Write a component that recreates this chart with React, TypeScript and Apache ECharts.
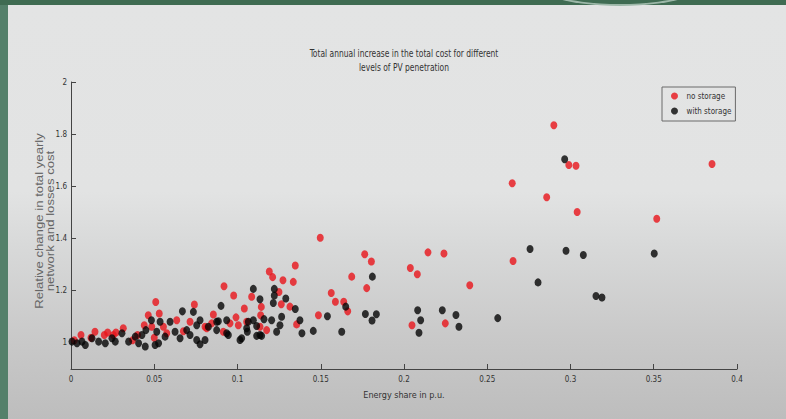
import React, { useEffect, useRef } from "react";
import * as echarts from "echarts";

const TITLE_LINES = [
  "Total annual increase in the total cost for different",
  "levels of PV penetration",
];
const X_NAME = "Energy share in p.u.";
const Y_NAME_LINES = ["Relative change in total yearly", "network and losses cost"];
const SERIES_NAMES = ["no storage", "with storage"];
const Y_TICKS = [1, 1.2, 1.4, 1.6, 1.8, 2];

const noStorage: [number, number][] = [
  [0.002, 1.01], [0.006, 1.03], [0.012, 1.02], [0.0144, 1.043], [0.02, 1.03], [0.022, 1.04],
  [0.0254, 1.03], [0.027, 1.04], [0.0314, 1.056], [0.037, 1.01], [0.04, 1.03], [0.044, 1.068],
  [0.0464, 1.106], [0.05, 1.02], [0.0509, 1.157], [0.053, 1.113], [0.0485, 1.062], [0.0555, 1.062],
  [0.0575, 1.037], [0.0635, 1.087], [0.0675, 1.045], [0.0715, 1.081], [0.0741, 1.147], [0.0805, 1.062],
  [0.0815, 1.056], [0.0845, 1.075], [0.0855, 1.109], [0.0915, 1.043], [0.0919, 1.217], [0.0955, 1.075],
  [0.0977, 1.182], [0.0991, 1.098], [0.1005, 1.068], [0.1041, 1.132], [0.1055, 1.081], [0.1085, 1.177],
  [0.1135, 1.062], [0.1143, 1.138], [0.1139, 1.106], [0.1175, 1.049], [0.1191, 1.274], [0.1211, 1.252],
  [0.1249, 1.195], [0.1263, 1.148], [0.1273, 1.24], [0.1315, 1.139], [0.1335, 1.234], [0.1347, 1.297],
  [0.1355, 1.071], [0.1486, 1.106], [0.1497, 1.403], [0.1563, 1.191], [0.1588, 1.158], [0.1638, 1.158],
  [0.1662, 1.121], [0.1686, 1.254], [0.1764, 1.34], [0.1776, 1.21], [0.1804, 1.312], [0.2038, 1.287],
  [0.2048, 1.068], [0.208, 1.263], [0.2144, 1.347], [0.224, 1.343], [0.2248, 1.075], [0.2395, 1.221],
  [0.2655, 1.314], [0.265, 1.612], [0.2857, 1.558], [0.29, 1.834], [0.299, 1.682], [0.3033, 1.679],
  [0.304, 1.502], [0.3518, 1.476], [0.385, 1.686],
];

const withStorage: [number, number][] = [
  [0.0006, 1.005], [0.0036, 0.999], [0.0066, 1.005], [0.0086, 0.992], [0.0126, 1.018], [0.0166, 1.005],
  [0.0206, 0.999], [0.0246, 1.018], [0.0266, 1.005], [0.0306, 1.037], [0.0346, 1.005], [0.0386, 1.024],
  [0.0406, 0.999], [0.0426, 1.03], [0.0446, 0.986], [0.045, 1.049], [0.0483, 1.087], [0.0505, 0.992],
  [0.0515, 1.043], [0.0526, 0.999], [0.0535, 1.081], [0.0565, 1.024], [0.0595, 1.081], [0.0625, 1.043],
  [0.0655, 1.018], [0.0669, 1.121], [0.0695, 1.049], [0.0715, 1.03], [0.0735, 1.119], [0.0755, 1.068],
  [0.0755, 1.011], [0.0775, 1.087], [0.0775, 0.995], [0.0805, 1.011], [0.0825, 1.062], [0.0875, 1.049],
  [0.0875, 1.081], [0.0885, 1.083], [0.0901, 1.142], [0.0935, 1.087], [0.0935, 1.037], [0.0945, 1.03],
  [0.1015, 1.011], [0.1025, 1.018], [0.1055, 1.056], [0.1059, 1.043], [0.1065, 1.081], [0.1095, 1.207],
  [0.1095, 1.087], [0.1115, 1.065], [0.1115, 1.027], [0.1135, 1.167], [0.1135, 1.03], [0.1145, 1.027],
  [0.1159, 1.091], [0.1205, 1.087], [0.1215, 1.153], [0.1221, 1.207], [0.1221, 1.182], [0.1235, 1.043],
  [0.1255, 1.068], [0.1265, 1.1], [0.129, 1.17], [0.1347, 1.13], [0.1375, 1.087], [0.1387, 1.037],
  [0.1455, 1.046], [0.154, 1.102], [0.1626, 1.043], [0.165, 1.139], [0.1768, 1.111], [0.1808, 1.086],
  [0.181, 1.254], [0.1834, 1.11], [0.2082, 1.125], [0.209, 1.039], [0.21, 1.087], [0.223, 1.125],
  [0.2312, 1.107], [0.233, 1.062], [0.2563, 1.095], [0.2757, 1.36], [0.2805, 1.232], [0.2965, 1.704],
  [0.2973, 1.353], [0.3077, 1.337], [0.3153, 1.18], [0.3189, 1.174], [0.3503, 1.343],
];

const NARROW = "'Liberation Sans Narrow', 'DejaVu Sans Condensed', 'Arial Narrow', sans-serif";
const REGULAR = "'Liberation Sans', Arial, sans-serif";

export default function App() {
  const ref = useRef<HTMLDivElement>(null);

  useEffect(() => {
    if (!ref.current) return;
    const chart = echarts.init(ref.current, null, { renderer: "svg" });
    chart.setOption({
      animation: false,
      backgroundColor: "transparent",
      grid: { left: 71, right: 49, top: 82, bottom: 50 },
      legend: {
        left: 662,
        top: 87,
        orient: "vertical",
        data: SERIES_NAMES,
        borderColor: "#6a6a6a",
        borderWidth: 1,
        padding: [5, 4, 6, 9],
        itemGap: 7,
        itemWidth: 14,
        itemHeight: 7,
        icon: "circle",
        textStyle: { fontFamily: NARROW, fontSize: 8, color: "#333" },
      },
      xAxis: {
        type: "value",
        min: 0,
        max: 0.4,
        interval: 0.05,
        name: X_NAME,
        nameLocation: "middle",
        nameGap: 21,
        nameTextStyle: { fontFamily: NARROW, fontSize: 9, color: "#333" },
        axisLine: { show: true, lineStyle: { color: "#444", width: 1 } },
        axisTick: { show: true, inside: true, length: 5, lineStyle: { color: "#444" } },
        axisLabel: { fontFamily: NARROW, fontSize: 8, color: "#333", margin: 6 },
        splitLine: { show: false },
      },
      yAxis: {
        type: "value",
        min: 0.9,
        max: 2,
        axisLine: { show: true, lineStyle: { color: "#444", width: 1 } },
        axisTick: { show: true, inside: true, length: 5, customValues: Y_TICKS, lineStyle: { color: "#444" } },
        axisLabel: { fontFamily: NARROW, fontSize: 8, color: "#333", margin: 4, customValues: Y_TICKS },
        splitLine: { show: false },
      },
      graphic: [
        {
          type: "text",
          x: 404,
          y: 53,
          scaleX: 0.84,
          style: { text: TITLE_LINES[0], align: "center", verticalAlign: "middle", fontFamily: NARROW, fontSize: 10, fill: "#333" },
        },
        {
          type: "text",
          x: 404,
          y: 67,
          scaleX: 0.84,
          style: { text: TITLE_LINES[1], align: "center", verticalAlign: "middle", fontFamily: NARROW, fontSize: 10, fill: "#333" },
        },
        {
          type: "text",
          x: 39,
          y: 221,
          rotation: Math.PI / 2,
          scaleX: 1.2,
          style: { text: Y_NAME_LINES[0], align: "center", verticalAlign: "middle", fontFamily: REGULAR, fontSize: 11, fill: "#666" },
        },
        {
          type: "text",
          x: 50,
          y: 221,
          rotation: Math.PI / 2,
          scaleX: 1.2,
          style: { text: Y_NAME_LINES[1], align: "center", verticalAlign: "middle", fontFamily: REGULAR, fontSize: 11, fill: "#666" },
        },
      ],
      series: [
        {
          name: SERIES_NAMES[0],
          type: "scatter",
          data: noStorage,
          symbol: "circle",
          symbolSize: [7, 8],
          itemStyle: { color: "#e8141a" },
        },
        {
          name: SERIES_NAMES[1],
          type: "scatter",
          data: withStorage,
          symbol: "circle",
          symbolSize: [7, 8],
          itemStyle: { color: "#050505" },
        },
      ],
    });
    return () => chart.dispose();
  }, []);

  return (
    <div style={{ position: "fixed", left: 0, top: 0, width: 786, height: 419, overflow: "hidden", background: "#3f6b52" }}>
      <div
        style={{
          position: "absolute",
          left: 8,
          top: 5,
          width: 778,
          height: 414,
          background:
            "linear-gradient(to bottom, #e3e4e4 0%, #e2e3e3 45%, #d8d9d9 58%, #c9c9c9 80%, #bdbdbd 100%)",
        }}
      />
      <div
        style={{
          position: "absolute",
          left: 0,
          top: 5,
          width: 8,
          height: 414,
          background: "#54806a",
        }}
      />
      <div
        style={{
          position: "absolute",
          left: 520,
          top: -60,
          width: 200,
          height: 64,
          borderRadius: "50%",
          borderBottom: "2px solid #9cb7a8",
        }}
      />
      <div ref={ref} style={{ position: "absolute", left: 0, top: 0, width: 786, height: 419 }} />
    </div>
  );
}
